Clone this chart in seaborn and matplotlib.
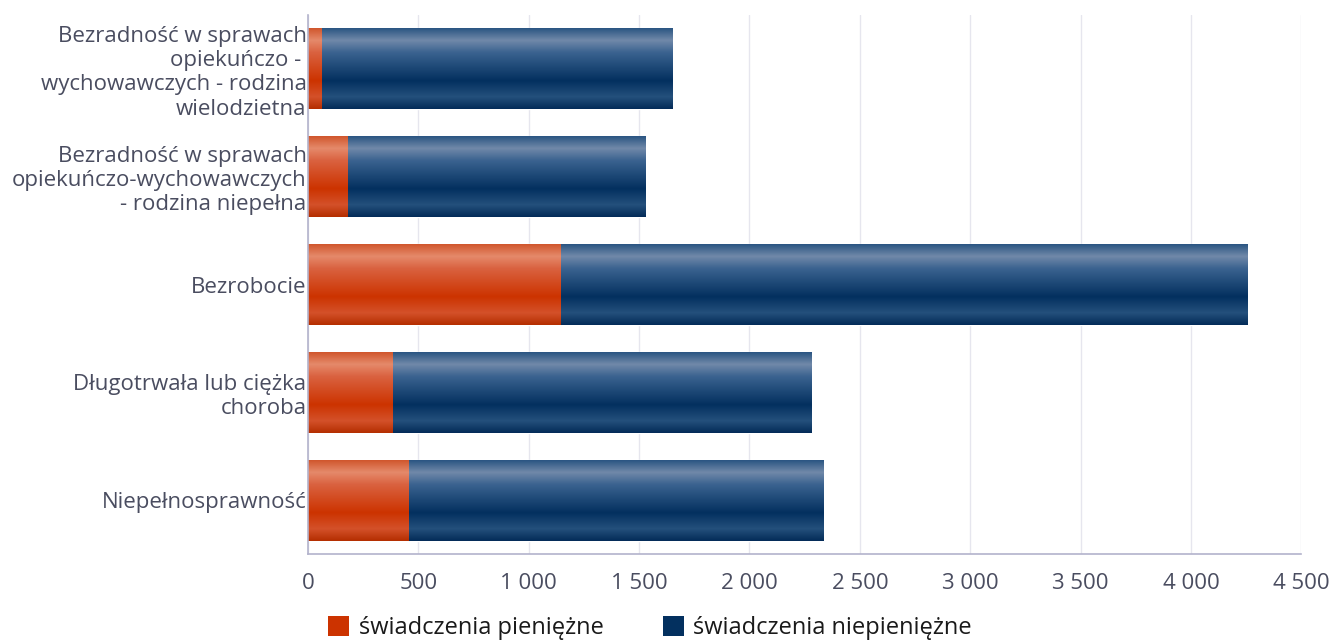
import numpy as np
import pandas as pd
import matplotlib
matplotlib.use('Agg')
import matplotlib.pyplot as plt
from matplotlib.colors import LinearSegmentedColormap
from matplotlib.patches import Patch
from matplotlib.ticker import FuncFormatter
import seaborn as sns

# --- data ---
categories = [
    'Bezradność w sprawach\nopiekuńczo - \nwychowawczych - rodzina\nwielodzietna',
    'Bezradność w sprawach\nopiekuńczo-wychowawczych\n- rodzina niepełna',
    'Bezrobocie',
    'Długotrwała lub ciężka\nchoroba',
    'Niepełnosprawność',
]
pieniezne = [59, 177, 1146, 385, 457]
niepieniezne = [1590, 1354, 3111, 1898, 1880]
series_names = ['świadczenia pieniężne', 'świadczenia niepieniężne']
x_ticks = [0, 500, 1000, 1500, 2000, 2500, 3000, 3500, 4000, 4500]

RED = '#cc3300'
BLUE = '#03305f'
TEXT = '#4a4d60'

df = pd.DataFrame({'kategoria': categories,
                   'pieniezne': pieniezne,
                   'niepieniezne': niepieniezne})
df['suma'] = df['pieniezne'] + df['niepieniezne']

sns.set_style('white')
plt.rcParams['font.family'] = ['Open Sans', 'DejaVu Sans']

fig, ax = plt.subplots(figsize=(13.32, 6.41), dpi=100)
fig.subplots_adjust(left=0.2312, right=0.977, top=0.977, bottom=0.135)

# totals first (blue), then the cash part on top (red)
sns.barplot(data=df, y='kategoria', x='suma', color=BLUE, width=0.75,
            orient='h', ax=ax, saturation=1)
sns.barplot(data=df, y='kategoria', x='pieniezne', color=RED, width=0.75,
            orient='h', ax=ax, saturation=1)

# glossy gradient fill clipped to each bar
stops = [0.0, 0.15, 0.3, 0.65, 0.85, 1.0]
blue_cmap = LinearSegmentedColormap.from_list('b', list(zip(stops, [
    '#2a5582', '#7189a9', '#3b6390', '#03305f', '#24507c', '#032b58'])))
red_cmap = LinearSegmentedColormap.from_list('r', list(zip(stops, [
    '#d0562c', '#e58a6b', '#da6240', '#cc3300', '#d4512a', '#b42e00'])))
grad = np.linspace(0, 1, 256).reshape(-1, 1)
n = len(categories)
for i, patch in enumerate(list(ax.patches)):
    cmap = blue_cmap if i < n else red_cmap
    x0, y0 = patch.get_x(), patch.get_y()
    w, h = patch.get_width(), patch.get_height()
    im = ax.imshow(grad, cmap=cmap, aspect='auto',
                   extent=(x0, x0 + w, y0 + h, y0), zorder=patch.get_zorder() + 0.1,
                   interpolation='bilinear')
    im.set_clip_path(patch)

ax.set_xlim(0, 4500)
ax.set_ylim(n - 0.5, -0.5)
ax.set_xticks(x_ticks)
ax.xaxis.set_major_formatter(FuncFormatter(lambda v, p: f'{int(v):,}'.replace(',', ' ')))
ax.grid(axis='x', color='#e6e6ee', linewidth=1)
ax.set_axisbelow(True)
ax.set_xlabel('')
ax.set_ylabel('')

for side in ['top', 'right']:
    ax.spines[side].set_visible(False)
for side in ['left', 'bottom']:
    ax.spines[side].set_color('#b3b3cc')
    ax.spines[side].set_linewidth(1.2)

ax.tick_params(axis='x', length=0, labelsize=16, labelcolor=TEXT, pad=13)
ax.tick_params(axis='y', length=0, labelsize=16, labelcolor=TEXT, pad=1)
for lbl in ax.get_yticklabels():
    lbl.set_multialignment('right')
    lbl.set_linespacing(1.2)

handles = [Patch(facecolor=RED, edgecolor='none'), Patch(facecolor=BLUE, edgecolor='none')]
fig.legend(handles, series_names, loc='lower center', bbox_to_anchor=(0.488, -0.032),
           ncol=2, frameon=False, fontsize=17, labelcolor='#1a1a1a',
           handlelength=0.9, handleheight=0.9, handletextpad=0.4, columnspacing=2.5)

fig.savefig('out.png', dpi=100)
